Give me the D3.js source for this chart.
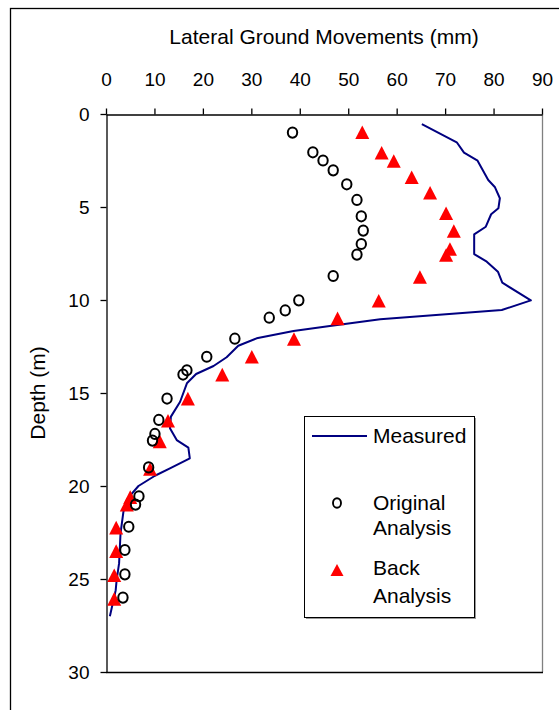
<!DOCTYPE html>
<html>
<head>
<meta charset="utf-8">
<script src="https://cdn.jsdelivr.net/npm/d3@7/dist/d3.min.js"></script>
<style>
  html, body { margin: 0; padding: 0; background: #fff; }
  svg { display: block; font-family: "Liberation Sans", Arial, sans-serif; }
</style>
</head>
<body>
<svg id="chart" width="559" height="710"></svg>
<script>
// Lateral ground movement (mm) against depth (m)
const xTicks = [0, 10, 20, 30, 40, 50, 60, 70, 80, 90];
const yTicks = [0, 5, 10, 15, 20, 25, 30];

// Measured profile: movement (mm), depth (m)
const measuredMove = [65.2, 72.4, 73.9, 76.7, 78.9, 80.3, 81.3, 81.0, 79.5, 78.4, 76.0, 76.0, 78.6, 80.9, 81.8, 87.7, 81.7, 56.6, 46.2, 38.7, 31.1, 27.3, 24.9, 22.2, 18.6, 16.7, 15.3, 13.4, 13.2, 14.6, 17.0, 17.3, 13.2, 10.1, 6.7, 4.8, 3.6, 3.0, 2.7, 2.2, 2.0, 0.8];
const measuredDepth = [0.54, 1.52, 2.08, 2.51, 3.55, 3.94, 4.53, 5.07, 5.39, 6.06, 6.47, 7.53, 7.94, 8.48, 9.07, 10.02, 10.54, 11.04, 11.4, 11.67, 12.06, 12.46, 13.08, 13.55, 13.98, 14.48, 15.47, 16.27, 16.9, 17.53, 17.94, 18.51, 19.05, 19.45, 20.0, 20.57, 21.38, 22.54, 24.16, 25.05, 25.6, 27.0];

// Original analysis
const originalMove = [38.5, 42.7, 44.8, 46.9, 49.7, 51.8, 52.7, 53.1, 52.7, 51.8, 46.9, 39.8, 37.0, 33.7, 26.6, 20.8, 16.7, 15.9, 12.6, 10.9, 10.1, 9.6, 8.8, 6.8, 6.1, 4.7, 3.9, 3.9, 3.5];
const originalDepth = [1.0, 2.06, 2.5, 3.03, 3.78, 4.62, 5.5, 6.27, 6.99, 7.56, 8.71, 10.02, 10.56, 10.95, 12.08, 13.05, 13.78, 14.01, 15.3, 16.45, 17.2, 17.56, 19.0, 20.55, 21.0, 22.19, 23.44, 24.75, 26.0];

// Back analysis
const backMove = [52.9, 56.9, 59.4, 63.1, 66.9, 70.2, 71.8, 71.0, 70.2, 64.8, 56.3, 47.8, 38.8, 30.1, 24.0, 16.9, 12.8, 11.1, 9.1, 5.0, 4.3, 2.1, 2.1, 1.7, 1.7];
const backDepth = [0.98, 2.08, 2.53, 3.4, 4.23, 5.34, 6.29, 7.26, 7.58, 8.76, 10.04, 10.99, 12.1, 13.05, 14.01, 15.3, 16.49, 17.6, 19.09, 20.6, 21.0, 22.24, 23.5, 24.8, 26.07];

const legendLabels = [["Measured"], ["Original", "Analysis"], ["Back", "Analysis"]];

const svg = d3.select("#chart");
const plot = { left: 106, right: 542, top: 114, bottom: 672 };

const x = d3.scaleLinear().domain([0, 90]).range([plot.left, plot.right]);
const y = d3.scaleLinear().domain([0, 30]).range([plot.top, plot.bottom]);

// triangle marker centred on its bounding box
const triPath = "M0,-6.8L7,6.8L-7,6.8Z";

// outer frame
svg.append("rect")
  .attr("x", 10.5).attr("y", 8.5)
  .attr("width", 700).attr("height", 800)
  .attr("fill", "none").attr("stroke", "#000").attr("stroke-width", 1.3);

// plot area border (right side gray, bottom black)
svg.append("line")
  .attr("x1", plot.right + 0.5).attr("x2", plot.right + 0.5)
  .attr("y1", plot.top).attr("y2", plot.bottom)
  .attr("stroke", "#808080").attr("stroke-width", 1.3);
svg.append("line")
  .attr("x1", plot.left).attr("x2", plot.right + 1)
  .attr("y1", plot.bottom + 0.5).attr("y2", plot.bottom + 0.5)
  .attr("stroke", "#000").attr("stroke-width", 1.3);

// top axis
const gx = svg.append("g")
  .attr("transform", `translate(0,${plot.top + 0.5})`)
  .call(d3.axisTop(x).tickValues(xTicks).tickSize(6).tickSizeOuter(0));
gx.select(".domain").attr("stroke", "#000").attr("stroke-width", 1.3);
gx.selectAll(".tick line").attr("stroke", "#000").attr("stroke-width", 1.3);
gx.selectAll(".tick text")
  .attr("y", -29).attr("dy", 0)
  .attr("font-size", 19).attr("fill", "#000")
  .attr("font-family", "Liberation Sans, Arial, sans-serif");

// left axis
const gy = svg.append("g")
  .attr("transform", `translate(${plot.left + 0.5},0)`)
  .call(d3.axisLeft(y).tickValues(yTicks).tickSize(6).tickSizeOuter(0));
gy.select(".domain").attr("stroke", "#000").attr("stroke-width", 1.3);
gy.selectAll(".tick line").attr("stroke", "#000").attr("stroke-width", 1.3);
gy.selectAll(".tick text")
  .attr("x", -17).attr("dy", "0.35em")
  .attr("font-size", 19).attr("fill", "#000")
  .attr("font-family", "Liberation Sans, Arial, sans-serif");

// axis titles
svg.append("text")
  .attr("x", 324).attr("y", 44)
  .attr("text-anchor", "middle")
  .attr("font-size", 21)
  .text("Lateral Ground Movements (mm)");
svg.append("text")
  .attr("transform", `translate(45,${(plot.top + plot.bottom) / 2}) rotate(-90)`)
  .attr("text-anchor", "middle")
  .attr("font-size", 21)
  .text("Depth (m)");

// measured line
const measured = measuredMove.map((v, i) => [v, measuredDepth[i]]);
svg.append("path")
  .datum(measured)
  .attr("d", d3.line().x(d => x(d[0])).y(d => y(d[1])))
  .attr("fill", "none")
  .attr("stroke", "#000080")
  .attr("stroke-width", 2)
  .attr("stroke-linejoin", "round");

// back analysis triangles
const back = backMove.map((v, i) => [v, backDepth[i]]);
svg.append("g").selectAll("path")
  .data(back)
  .join("path")
  .attr("d", triPath)
  .attr("transform", d => `translate(${x(d[0])},${y(d[1])})`)
  .attr("fill", "#ff0000");

// original analysis circles
const orig = originalMove.map((v, i) => [v, originalDepth[i]]);
svg.append("g").selectAll("ellipse")
  .data(orig)
  .join("ellipse")
  .attr("cx", d => x(d[0]))
  .attr("cy", d => y(d[1]))
  .attr("rx", 4.7).attr("ry", 5.1)
  .attr("fill", "none")
  .attr("stroke", "#000")
  .attr("stroke-width", 2);

// legend
const lg = svg.append("g");
lg.append("rect")
  .attr("x", 306).attr("y", 418)
  .attr("width", 170).attr("height", 201)
  .attr("fill", "#999");
lg.append("rect")
  .attr("x", 304.5).attr("y", 416.5)
  .attr("width", 170).attr("height", 201)
  .attr("fill", "#fff").attr("stroke", "#000").attr("stroke-width", 1);
lg.append("line")
  .attr("x1", 312).attr("x2", 367)
  .attr("y1", 436).attr("y2", 436)
  .attr("stroke", "#000080").attr("stroke-width", 2);
lg.append("ellipse")
  .attr("cx", 337).attr("cy", 503)
  .attr("rx", 4).attr("ry", 4.8)
  .attr("fill", "none").attr("stroke", "#000").attr("stroke-width", 1.9);
lg.append("path")
  .attr("d", "M0,-6L6.5,6L-6.5,6Z")
  .attr("transform", "translate(337,570)")
  .attr("fill", "#ff0000");

const labelY = [[443], [510, 535], [575, 603]];
legendLabels.forEach((lines, i) => {
  lines.forEach((t, j) => {
    lg.append("text")
      .attr("x", 373).attr("y", labelY[i][j])
      .attr("font-size", 21)
      .text(t);
  });
});
</script>
</body>
</html>
